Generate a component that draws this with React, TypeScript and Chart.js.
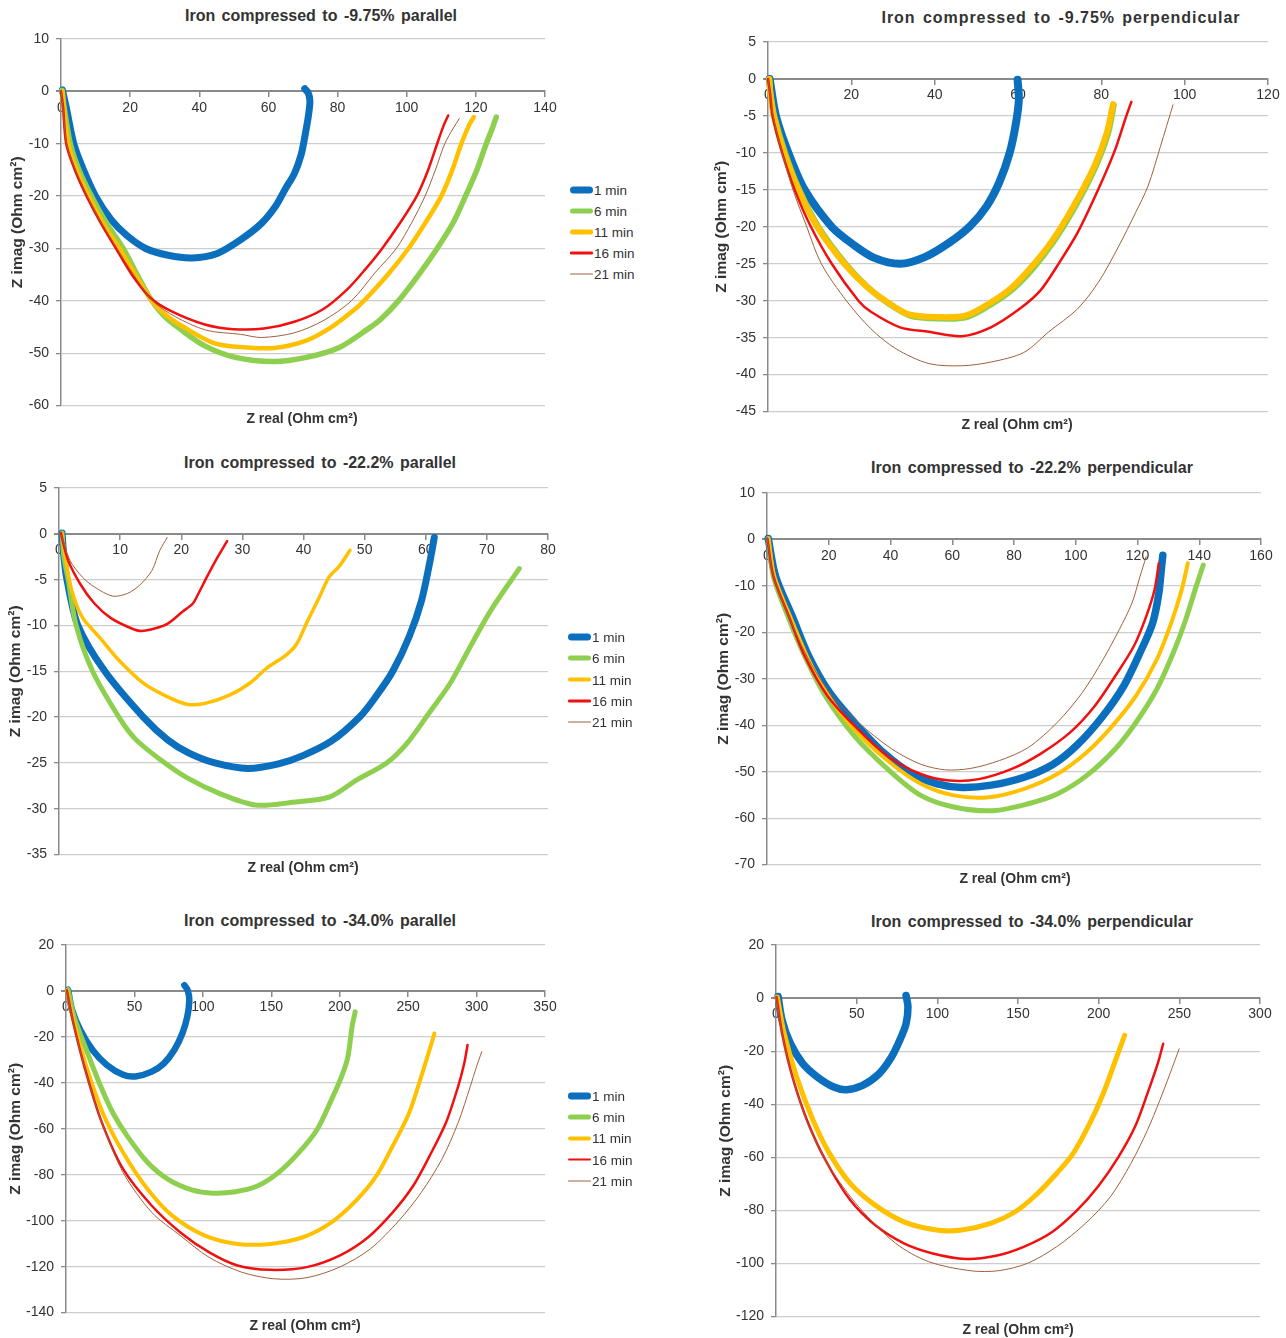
import React, { useEffect, useRef } from "react";
import { Chart, registerables } from "chart.js";

Chart.register(...registerables);

const FONT = "'Liberation Sans', Arial, Helvetica, sans-serif";
const TEXT = "#333333";
const AXIS = "#8a8a8a";
const GRID = "#cdcdcd";

type Pt = [number, number];

const SERIES_NAMES = ["1 min", "6 min", "11 min", "16 min", "21 min"];
const SERIES_COLORS: Record<string, string> = {
  "1 min": "#0b6fbe",
  "6 min": "#8ecf4f",
  "11 min": "#ffc000",
  "16 min": "#f01010",
  "21 min": "#a0603c",
};

// ---- Iron compressed to -9.75% parallel ----
const par975_1min: Pt[] = [[0.4, 0.3], [1.5, -3], [3.7, -10], [6.5, -15], [10, -20], [14.5, -24.5], [19, -27.5], [24.5, -30], [31, -31.3], [38, -31.8], [45, -31], [52, -28.3], [58, -25.2], [62, -22], [65, -18.5], [67.5, -15.7], [69.5, -12], [70.7, -8], [71.6, -4.5], [72, -1.8], [71.5, -0.3], [70.5, 0.5]];
const par975_6min: Pt[] = [[0.3, 0.2], [0.9, -3], [2.7, -10], [5.2, -15], [8.8, -20], [13, -25], [18, -30], [22, -35], [26.3, -40], [30, -43], [34.5, -45.4], [41.6, -48.6], [50.4, -50.8], [61.6, -51.6], [71, -50.8], [80.5, -48.9], [88.7, -45.4], [92.5, -43.5], [97.6, -40], [103.5, -35], [108.8, -30], [113.5, -25], [117, -20], [120.3, -15], [123, -10], [124.8, -7], [125.9, -4.9]];
const par975_11min: Pt[] = [[0.5, 0], [0.8, -3], [2.1, -10], [4.5, -15], [8, -20], [12, -25], [16.9, -30], [21.5, -35], [26.3, -40], [30.5, -42.8], [35.7, -45.1], [44, -48], [51.6, -48.8], [61.6, -49], [70.5, -47.7], [78, -45.1], [85, -41.6], [87.6, -40], [94.5, -35], [100.5, -30], [105.5, -25], [110, -20], [113.2, -15], [115.8, -10], [118, -6.5], [119.4, -4.9]];
const par975_16min: Pt[] = [[0, 0], [0.6, -3], [1.5, -10], [4, -15], [7.4, -20], [11.4, -25], [15.9, -30], [20.5, -35], [26, -39.5], [32, -42], [41.6, -44.5], [49.8, -45.4], [58.7, -45.3], [67.5, -44], [75.8, -41.6], [82.8, -37.8], [88, -34], [92.9, -30], [98.2, -25], [102.9, -20], [106.2, -15], [108.8, -10], [110.7, -6.5], [112, -4.6]];
const par975_21min: Pt[] = [[0, 0], [0.6, -3], [1.6, -10], [4.2, -15], [7.6, -20], [11.6, -25], [16.2, -30], [21, -35], [26.5, -40], [33, -43], [42, -45.6], [52, -46.4], [58, -47], [67.5, -46.1], [75.8, -43.8], [84, -40], [91, -34.5], [97, -30], [101.5, -25], [105.3, -20], [108.3, -15], [111, -10], [113.5, -7], [115.2, -5.2]];

// ---- Iron compressed to -9.75% perpendicular ----
const perp975_1min: Pt[] = [[0.4, 0], [1.9, -5], [4.9, -10], [8.8, -15], [15.3, -20], [20.7, -22.5], [25.5, -24.2], [31.7, -25], [37.6, -24.1], [43.6, -22.1], [48.5, -19.9], [52.5, -17.2], [55.5, -14], [58, -10], [59.5, -6], [60.2, -2.8], [59.9, -0.1]];
const perp975_6min: Pt[] = [[0.3, 0], [0.6, -2], [1.5, -5], [4.1, -10], [7.5, -15], [12.1, -20], [18.6, -25], [23.8, -28.1], [29, -30.4], [34, -32], [40.8, -32.4], [47.8, -32.2], [53.8, -30.4], [58.8, -28.4], [63.8, -25.5], [68.8, -21.8], [73.7, -17.3], [78.6, -11.9], [81.6, -7.4], [83, -3.5]];
const perp975_11min: Pt[] = [[0.3, 0], [0.6, -2], [1.4, -5], [3.9, -10], [7.3, -15], [11.8, -20], [18.3, -25], [23.5, -28], [28.7, -30.2], [33.6, -31.8], [40.6, -32.2], [47.5, -32], [53.5, -30.2], [58.5, -28.2], [63.4, -25.3], [68.4, -21.7], [73.3, -17.2], [78.3, -11.8], [81.3, -7.3], [82.8, -3.4]];
const perp975_16min: Pt[] = [[0, 0], [0.5, -2], [1.1, -5], [3.4, -10], [6.4, -15], [10.3, -20], [15.3, -25], [21.7, -30], [24.7, -31.5], [31.7, -33.6], [38.6, -34.2], [46.5, -34.8], [53.5, -33.6], [60.4, -31.1], [65.4, -28.6], [69.4, -25.3], [74.3, -20.8], [79.3, -14.9], [83.3, -9.6], [85.7, -5.5], [87.2, -3.1]];
const perp975_21min: Pt[] = [[0, 0], [0.5, -2], [1.2, -5], [3.4, -10], [6, -15], [9.3, -20], [12.8, -25], [18.8, -30], [24.7, -33.8], [30.7, -36.5], [38.6, -38.5], [46.5, -38.8], [53.5, -38.3], [61.4, -37], [67.4, -34.2], [74.3, -31.1], [79.3, -27.5], [84.2, -22.6], [88.2, -18.1], [91.2, -14.5], [94.2, -9.1], [97.2, -3.5]];

// ---- Iron compressed to -22.2% parallel ----
const par222_1min: Pt[] = [[0.5, 0.1], [0.8, -2.5], [1.3, -5], [3.1, -10], [7.5, -15], [13.8, -20], [17.8, -22.5], [21.2, -23.9], [25.5, -25], [30.9, -25.6], [35.9, -25.1], [39.9, -24.2], [44.6, -22.6], [49.3, -19.9], [51.9, -17.7], [54.6, -15], [57.3, -11.2], [59.3, -7.3], [60.6, -3.3], [61.4, -0.4]];
const par222_6min: Pt[] = [[0.5, 0.1], [0.8, -2.5], [1.5, -5], [2.8, -10], [5.5, -15], [9.8, -20], [12.5, -22.4], [16.5, -24.6], [20.9, -26.6], [26.5, -28.4], [32.2, -29.6], [38.2, -29.3], [44.3, -28.7], [48.6, -26.9], [53.6, -25], [57, -22.8], [60.6, -19.5], [64, -16.3], [67.3, -12.3], [70.7, -8.3], [75.3, -3.8]];
const par222_11min: Pt[] = [[0.5, 0], [1.1, -2.9], [2.1, -6.2], [3.8, -9.1], [6.5, -11.2], [9.8, -13.8], [13.8, -16.3], [17.2, -17.6], [20.9, -18.6], [23.9, -18.5], [27.9, -17.6], [31.2, -16.3], [33.9, -14.7], [37.2, -13.2], [38.9, -12], [40.6, -9.6], [42.6, -6.9], [44.2, -4.7], [45.9, -3.5], [47.6, -1.8]];
const par222_16min: Pt[] = [[0.3, 0.1], [1.5, -2.9], [3.5, -5.5], [5.8, -7.6], [8.5, -9.2], [11.8, -10.3], [13.5, -10.6], [15.8, -10.3], [17.8, -9.8], [20.2, -8.5], [21.9, -7.6], [22.9, -6.4], [24.2, -4.7], [25.9, -2.6], [27.5, -0.8]];
const par222_21min: Pt[] = [[0.3, 0], [1.8, -2.9], [3.8, -4.7], [5.8, -5.8], [8.8, -6.8], [11.2, -6.5], [13.2, -5.6], [15.2, -4], [16.5, -1.8], [17.7, -0.4]];

// ---- Iron compressed to -22.2% perpendicular ----
const perp222_1min: Pt[] = [[0.4, 0.2], [2.8, -8], [8.2, -16.6], [13.5, -25.1], [20.3, -33], [28.3, -39.4], [37.7, -45.9], [47, -50.5], [55.1, -52.6], [63.1, -53.4], [72.6, -52.9], [83.3, -51.2], [92.7, -48.4], [100.7, -44.1], [108.8, -38], [115.5, -31.6], [120.8, -24.4], [124.9, -18], [126.9, -11.6], [127.8, -5.9], [128.2, -3.4]];
const perp222_6min: Pt[] = [[0.4, 0.2], [2.1, -8], [6.8, -16.6], [12.2, -25.1], [18.9, -33.7], [28.3, -42.3], [39, -49.4], [49.8, -55.1], [60.5, -57.6], [73.2, -58.4], [84.6, -56.9], [94, -54.8], [103.4, -50.9], [112.8, -45.1], [119.5, -39.4], [126.2, -32.3], [131.6, -24.4], [135.6, -17.3], [139, -10.1], [141.3, -5.5]];
const perp222_11min: Pt[] = [[0.4, 0.2], [2.4, -8], [7.5, -16.6], [12.9, -25.1], [19.6, -33.4], [28.3, -40.9], [39, -47.6], [49.8, -52.6], [60.5, -55.1], [71.9, -55.5], [83.3, -53.7], [94, -50.5], [103.4, -45.9], [111.4, -40.5], [119.5, -33.7], [126.2, -25.9], [130.9, -18], [134.3, -10.9], [136.3, -5.1]];
const perp222_16min: Pt[] = [[0.1, 0.2], [2.1, -8], [7.1, -16.6], [12.2, -25.1], [19.6, -33.7], [28.3, -40.1], [39, -46.6], [49.8, -50.5], [59.1, -51.9], [68.6, -51.6], [79.3, -49.4], [88.7, -46.1], [98.1, -41.6], [106.1, -35.9], [112.8, -29.4], [118.8, -23], [122.8, -16.6], [125.5, -10.9], [126.9, -5.1]];
const perp222_21min: Pt[] = [[0.1, 0.2], [2.1, -8], [7.1, -16.6], [12.9, -25.1], [20.3, -33], [29.6, -39.4], [40.4, -45.1], [49.8, -48.4], [57.8, -49.6], [65.9, -49.3], [75.3, -47.6], [84.6, -44.8], [94, -39.4], [102.1, -33], [108.8, -25.9], [114.1, -19.4], [118.2, -13.7], [120.8, -8], [122.8, -3.7]];

// ---- Iron compressed to -34.0% parallel ----
const par340_1min: Pt[] = [[1.5, 0.6], [4.5, -8.4], [10.4, -17], [19.4, -25.7], [29.8, -32.2], [41.8, -36.5], [50.7, -37.2], [62.7, -35.1], [71.6, -31.5], [79.1, -25.7], [85, -18.5], [88.6, -11.3], [90.1, -4], [88.9, 0.3], [86.5, 2.5]];
const par340_6min: Pt[] = [[1.5, 0.6], [6, -11.3], [14.9, -25.7], [25.4, -41.6], [34.3, -53.1], [44.8, -63.2], [59.7, -74.7], [74.6, -82], [92.5, -86.7], [107.4, -88], [123.8, -87.4], [140.3, -84.8], [155.2, -79.1], [170.1, -70.4], [183.5, -60.3], [194, -47.3], [201.4, -37.2], [206, -28.6], [209, -15.6], [211.3, -9.1]];
const par340_11min: Pt[] = [[0.6, 0.3], [6, -14.1], [14.9, -32.9], [26.9, -53.1], [41.8, -70.4], [59.7, -86.3], [77.6, -97.8], [101.5, -106.5], [125.3, -110.1], [149.2, -110.1], [173.1, -107.2], [194, -100.7], [211.9, -91.3], [226.8, -80.5], [238.7, -67.5], [250.7, -53.1], [259.6, -37.2], [265.6, -25.7], [269.2, -18.5]];
const par340_16min: Pt[] = [[0.6, 0.3], [5.4, -14.1], [13.4, -32.9], [25.4, -56], [41.8, -77.6], [62.7, -93.5], [83.6, -105.1], [104.4, -113.7], [125.3, -119.5], [149.2, -121.4], [176, -120.2], [199.9, -115.2], [220.8, -107.2], [238.7, -96.4], [253.7, -84.8], [265.6, -71.9], [277.6, -57.4], [286.5, -41.6], [291, -31.5], [293.4, -23.5]];
const par340_21min: Pt[] = [[0.6, 0.3], [5.4, -14.1], [13.4, -32.9], [25.4, -56], [41.8, -79.1], [62.7, -96.4], [83.6, -106.5], [104.4, -115.9], [128.3, -122.4], [152.2, -125.3], [176, -124.8], [199.9, -120.2], [222.3, -112.3], [243.2, -100], [259.6, -87.7], [274.6, -73.3], [286.5, -57.4], [295.4, -41.6], [300, -32.9], [303.8, -26.4]];

// ---- Iron compressed to -34.0% perpendicular ----
const perp340_1min: Pt[] = [[1.3, 0.6], [3.8, -8.4], [9, -17.2], [16.6, -24.7], [25.6, -29.7], [35.8, -33.5], [43.5, -34.5], [53.7, -32.9], [63.9, -28.5], [71.6, -22.2], [76.7, -15.9], [80.6, -9.7], [81.8, -3.4], [80.6, 1]];
const perp340_11min: Pt[] = [[0.8, 0.4], [5.1, -13.4], [12.8, -29.7], [23, -46], [33.2, -58.6], [46, -69.8], [61.4, -78], [79.3, -84.3], [99.7, -87.4], [115.1, -87.4], [133, -84.9], [148.3, -80.5], [161.1, -74.2], [173.9, -66.1], [184.1, -58.6], [194.4, -47.3], [202, -37.2], [209.7, -24.7], [216.1, -14]];
const perp340_16min: Pt[] = [[0.3, 0.4], [3.8, -13.4], [10.2, -29.7], [19.2, -46], [30.7, -61.1], [46, -76.1], [61.4, -85.5], [79.3, -92.4], [97.2, -96.2], [117.6, -98.3], [135.5, -97.2], [153.5, -93.7], [171.4, -88], [186.7, -79.9], [199.5, -71.1], [212.3, -59.8], [222.5, -48.5], [230.2, -36], [236.6, -24.7], [240, -17.2]];
const perp340_21min: Pt[] = [[0.3, 0.4], [3.8, -13.4], [10.2, -29.7], [20.5, -48.5], [33.2, -63.6], [51.2, -78.6], [74.2, -92.4], [94.6, -99.3], [120.2, -102.7], [138.1, -102.7], [156, -99.9], [173.9, -93.7], [191.8, -84.9], [207.2, -74.9], [220, -62.3], [230.2, -49.8], [237.9, -38.5], [244.2, -28.5], [249.9, -19.1]];

interface Series { name: string; data: Pt[]; width: number }
interface Panel {
  id: string;
  title: string;
  titleAt: [number, number];
  titleSpacing: number;
  xTitleAt: [number, number];
  yTitleX: number;
  canvasLeft: number;
  plot: { l: number; t: number; r: number; b: number };
  xMax: number; xStep: number;
  yMin: number; yMax: number; yStep: number;
  series: Series[];
  legend?: { x: number; y: number; dy: number };
}

const PANELS: Panel[] = [
  {
    id: "p1", title: "Iron compressed to -9.75% parallel", titleAt: [321, 16], titleSpacing: 0, xTitleAt: [302, 418], yTitleX: 18,
    canvasLeft: 0, plot: { l: 61, t: 39, r: 545, b: 407 },
    xMax: 140, xStep: 20, yMin: -60, yMax: 10, yStep: 10,
    series: [
      { name: SERIES_NAMES[0], data: par975_1min, width: 7 },
      { name: SERIES_NAMES[1], data: par975_6min, width: 5.5 },
      { name: SERIES_NAMES[2], data: par975_11min, width: 4.5 },
      { name: SERIES_NAMES[3], data: par975_16min, width: 2.5 },
      { name: SERIES_NAMES[4], data: par975_21min, width: 1 },
    ],
    legend: { x: 570, y: 190, dy: 21 },
  },
  {
    id: "p2", title: "Iron compressed to -9.75% perpendicular", titleAt: [1061, 18], titleSpacing: 0.95, xTitleAt: [1017, 424], yTitleX: 722,
    canvasLeft: 700, plot: { l: 768, t: 42, r: 1268, b: 413 },
    xMax: 120, xStep: 20, yMin: -45, yMax: 5, yStep: 5,
    series: [
      { name: SERIES_NAMES[0], data: perp975_1min, width: 8 },
      { name: SERIES_NAMES[1], data: perp975_6min, width: 6 },
      { name: SERIES_NAMES[2], data: perp975_11min, width: 6 },
      { name: SERIES_NAMES[3], data: perp975_16min, width: 2.5 },
      { name: SERIES_NAMES[4], data: perp975_21min, width: 1 },
    ],
  },
  {
    id: "p3", title: "Iron compressed to -22.2% parallel", titleAt: [320, 463], titleSpacing: 0, xTitleAt: [303, 867], yTitleX: 16,
    canvasLeft: 0, plot: { l: 59, t: 488, r: 548, b: 856 },
    xMax: 80, xStep: 10, yMin: -35, yMax: 5, yStep: 5,
    series: [
      { name: SERIES_NAMES[0], data: par222_1min, width: 7 },
      { name: SERIES_NAMES[1], data: par222_6min, width: 5 },
      { name: SERIES_NAMES[2], data: par222_11min, width: 3.5 },
      { name: SERIES_NAMES[3], data: par222_16min, width: 2.5 },
      { name: SERIES_NAMES[4], data: par222_21min, width: 1 },
    ],
    legend: { x: 568, y: 637, dy: 21.25 },
  },
  {
    id: "p4", title: "Iron compressed to -22.2% perpendicular", titleAt: [1032, 468], titleSpacing: 0, xTitleAt: [1015, 878], yTitleX: 724,
    canvasLeft: 700, plot: { l: 767, t: 493, r: 1261, b: 866 },
    xMax: 160, xStep: 20, yMin: -70, yMax: 10, yStep: 10,
    series: [
      { name: SERIES_NAMES[0], data: perp222_1min, width: 7.5 },
      { name: SERIES_NAMES[1], data: perp222_6min, width: 5 },
      { name: SERIES_NAMES[2], data: perp222_11min, width: 4 },
      { name: SERIES_NAMES[3], data: perp222_16min, width: 2.5 },
      { name: SERIES_NAMES[4], data: perp222_21min, width: 1 },
    ],
  },
  {
    id: "p5", title: "Iron compressed to -34.0% parallel", titleAt: [320, 921], titleSpacing: 0, xTitleAt: [305, 1325], yTitleX: 16,
    canvasLeft: 0, plot: { l: 66, t: 945, r: 545, b: 1314 },
    xMax: 350, xStep: 50, yMin: -140, yMax: 20, yStep: 20,
    series: [
      { name: SERIES_NAMES[0], data: par340_1min, width: 6.5 },
      { name: SERIES_NAMES[1], data: par340_6min, width: 5 },
      { name: SERIES_NAMES[2], data: par340_11min, width: 4 },
      { name: SERIES_NAMES[3], data: par340_16min, width: 2.5 },
      { name: SERIES_NAMES[4], data: par340_21min, width: 1 },
    ],
    legend: { x: 568, y: 1096, dy: 21.2 },
  },
  {
    id: "p6", title: "Iron compressed to -34.0% perpendicular", titleAt: [1032, 922], titleSpacing: 0, xTitleAt: [1018, 1329], yTitleX: 726,
    canvasLeft: 700, plot: { l: 776, t: 945, r: 1260, b: 1318 },
    xMax: 300, xStep: 50, yMin: -120, yMax: 20, yStep: 20,
    series: [
      { name: SERIES_NAMES[0], data: perp340_1min, width: 7.5 },
      { name: SERIES_NAMES[2], data: perp340_11min, width: 5 },
      { name: SERIES_NAMES[3], data: perp340_16min, width: 2.5 },
      { name: SERIES_NAMES[4], data: perp340_21min, width: 1 },
    ],
  },
];

const PAD_TOP = 16;
const PAD_BOTTOM = 14;
const PAD_RIGHT = 24;
const Y_TITLE_SIZE = 15.5;

function NyquistPanel({ panel }: { panel: Panel }) {
  const ref = useRef<HTMLCanvasElement>(null);
  const { l, t, r, b } = panel.plot;
  const x0 = panel.canvasLeft;
  const y0 = t - PAD_TOP;
  const w = r - x0 + PAD_RIGHT;
  const h = b - y0 + PAD_BOTTOM;

  useEffect(() => {
    if (!ref.current) return;
    const n = panel.series.length;
    const chart = new Chart(ref.current, {
      type: "scatter",
      data: {
        datasets: panel.series.map((s, i) => ({
          label: s.name,
          data: s.data.map(([x, y]) => ({ x, y })),
          showLine: true,
          borderColor: SERIES_COLORS[s.name],
          backgroundColor: SERIES_COLORS[s.name],
          borderWidth: s.width,
          pointRadius: 0,
          pointHoverRadius: 0,
          tension: 0.3,
          borderCapStyle: "round",
          borderJoinStyle: "round",
          clip: false,
          order: n - i,
        })),
      },
      options: {
        responsive: false,
        animation: false,
        events: [],
        layout: { padding: { top: PAD_TOP, bottom: PAD_BOTTOM, right: PAD_RIGHT, left: 0 } },
        plugins: { legend: { display: false }, tooltip: { enabled: false }, title: { display: false } },
        scales: {
          x: {
            type: "linear",
            position: { y: 0 } as any,
            min: 0,
            max: panel.xMax,
            ticks: { stepSize: panel.xStep, color: TEXT, font: { family: FONT, size: 14 }, padding: 3, maxRotation: 0, autoSkip: false },
            grid: { drawOnChartArea: false, drawTicks: true, tickLength: 5, tickColor: AXIS, lineWidth: 1.5 },
            border: { color: AXIS, width: 2 },
            afterFit: (scale: any) => { scale.height = 0; },
          },
          y: {
            type: "linear",
            position: "left",
            min: panel.yMin,
            max: panel.yMax,
            ticks: { stepSize: panel.yStep, color: TEXT, font: { family: FONT, size: 14 }, padding: 7 },
            grid: {
              color: (ctx: any) => (ctx.tick && ctx.tick.value === 0 ? AXIS : GRID),
              lineWidth: (ctx: any) => (ctx.tick && ctx.tick.value === 0 ? 2 : 1.3),
              tickLength: 5,
              tickColor: AXIS,
            },
            border: { color: AXIS, width: 1.5 },
            title: {
              display: true,
              text: "Z imag (Ohm cm²)",
              color: TEXT,
              font: { family: FONT, size: Y_TITLE_SIZE, weight: "bold" },
              padding: { top: panel.yTitleX - x0 - (Y_TITLE_SIZE * 1.2) / 2, bottom: 0 },
            },
            afterFit: (scale: any) => { scale.width = l - x0; },
          },
        },
      },
    } as any);
    return () => chart.destroy();
  }, [panel]);

  return (
    <>
      <div
        style={{
          position: "absolute", left: panel.titleAt[0], top: panel.titleAt[1],
          transform: "translate(-50%, -50%)", whiteSpace: "nowrap",
          font: `bold 16px ${FONT}`, color: TEXT, wordSpacing: 2, letterSpacing: panel.titleSpacing,
        }}
      >
        {panel.title}
      </div>
      <canvas
        ref={ref}
        width={w}
        height={h}
        style={{ position: "absolute", left: x0, top: y0, width: w, height: h }}
      />
      <div
        style={{
          position: "absolute", left: panel.xTitleAt[0], top: panel.xTitleAt[1],
          transform: "translate(-50%, -50%)", whiteSpace: "nowrap",
          font: `bold 14px ${FONT}`, color: TEXT,
        }}
      >
        Z real (Ohm cm²)
      </div>
      {panel.legend &&
        panel.series.map((s, i) => (
          <div
            key={s.name}
            style={{
              position: "absolute", left: panel.legend!.x, top: panel.legend!.y + i * panel.legend!.dy,
              transform: "translateY(-50%)", display: "flex", alignItems: "center",
              font: `13.5px ${FONT}`, color: TEXT, whiteSpace: "nowrap",
            }}
          >
            <span
              style={{
                display: "inline-block", width: 23, height: s.width,
                borderRadius: s.width / 2, background: SERIES_COLORS[s.name], marginRight: 1,
              }}
            />
            <span>{s.name}</span>
          </div>
        ))}
    </>
  );
}

export default function App() {
  return (
    <div style={{ position: "absolute", left: 0, top: 0, width: 1286, height: 1338, background: "#ffffff" }}>
      {PANELS.map((p) => (
        <NyquistPanel key={p.id} panel={p} />
      ))}
    </div>
  );
}
